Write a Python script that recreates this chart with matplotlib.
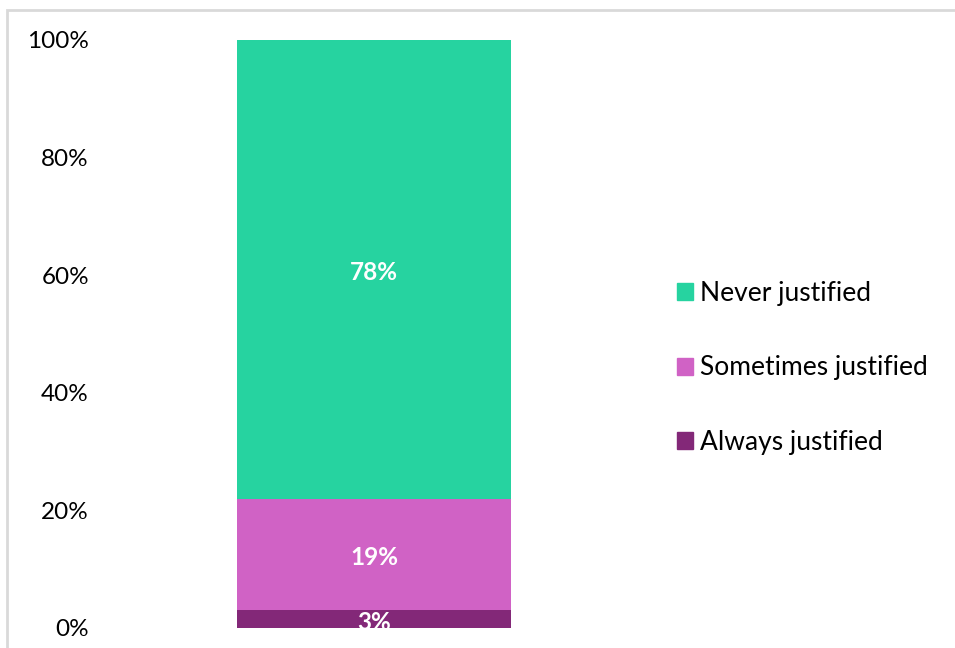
import numpy as np
import matplotlib.pyplot as plt
from matplotlib.patches import Rectangle, Patch

# data
categories = ["Always justified", "Sometimes justified", "Never justified"]
values = [3, 19, 78]
colors = ["#832878", "#D062C5", "#26D3A0"]

plt.rcParams['font.family'] = ['Lato', 'DejaVu Sans']

W, H = 955, 648
fig = plt.figure(figsize=(W / 100, H / 100), dpi=100)

# light grey frame round the chart area
fig.add_artist(Rectangle((7 / W, -0.1), 1.2, 1.1 - 10 / H,
                         transform=fig.transFigure, fill=False,
                         edgecolor="#d9d9d9", linewidth=2, clip_on=False))

ax = fig.add_axes([100 / W, 20 / H, 548 / W, 588 / H])

bottom = 0
for cat, v, c in zip(categories, values, colors):
    ax.bar(0, v, width=0.5, bottom=bottom, color=c, label=cat)
    ax.text(0, bottom + v / 2 - 0.5, f"{v}%", ha="center", va="center",
            color="white", fontsize=17.5, fontweight="bold", clip_on=True)
    bottom += v

ax.set_xlim(-0.5, 0.5)
ax.set_ylim(0, 100)
ax.set_yticks(np.arange(0, 101, 20))
ax.set_yticklabels([f"{t}%" for t in range(0, 101, 20)], fontsize=17.5)
ax.tick_params(axis="y", length=0, pad=8)
ax.set_xticks([])
for s in ax.spines.values():
    s.set_visible(False)

handles = [Patch(color=c) for c in colors][::-1]
fig.legend(handles, categories[::-1], loc="center left",
           bbox_to_anchor=(653 / W, 1 - 368 / H), frameon=False,
           fontsize=19, handlelength=0.6, handleheight=0.6,
           handletextpad=0.3, labelspacing=1.88)

fig.savefig("out.png", dpi=100)
